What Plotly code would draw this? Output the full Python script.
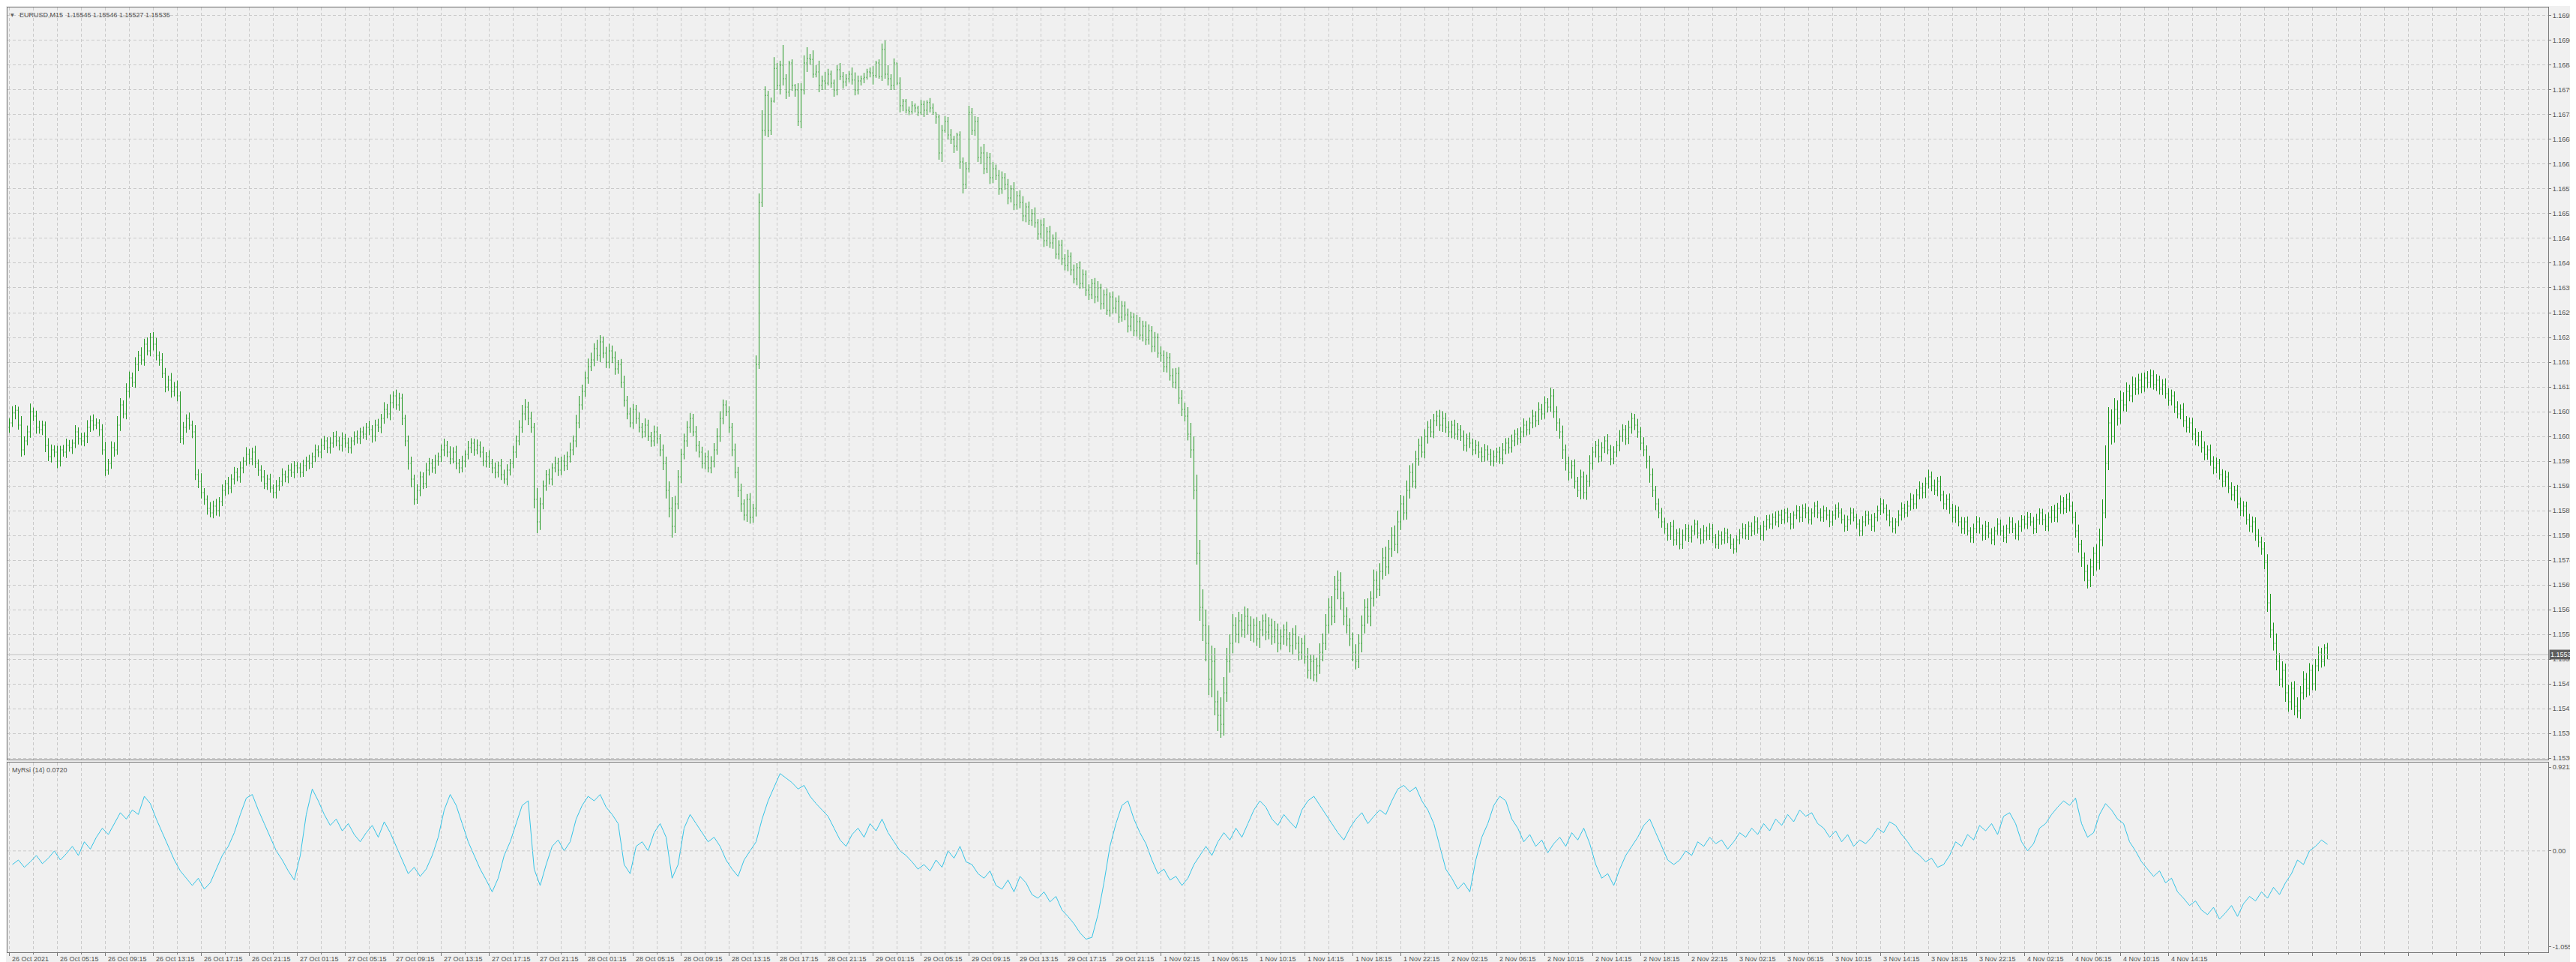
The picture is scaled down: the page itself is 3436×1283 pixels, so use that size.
import plotly.graph_objects as go

# ---------------- data (prices in points above 1.15000, 1 point = 0.00001) ----------------
BASE = 1.15
PT = 0.00001

first_open = 1040
close_pts = [
    1050,1072,1078,1045,990,1010,1030,1075,1065,1040,
    1035,1045,1000,975,990,985,965,990,985,1000,
    995,1005,1030,1015,1010,1020,1040,1055,1045,1050,
    1035,990,945,960,995,990,1045,1090,1070,1120,
    1150,1140,1180,1200,1190,1225,1210,1240,1225,1200,
    1190,1160,1130,1145,1120,1130,1110,1015,1040,1060,
    1045,1030,935,920,895,880,860,850,865,855,
    875,900,915,905,
    925,940,930,950,965,980,970,985,960,945,
    930,915,925,905,895,910,920,935,930,945,
    940,955,950,940,955,965,960,975,990,985,
    1000,1010,995,1005,1020,1010,1000,1015,1005,995,
    1010,1020,1015,1030,1025,1040,1035,1020,1045,1040,
    1060,1080,1070,1095,1110,1090,1105,1060,1010,960,
    925,880,900,930,915,945,960,950,
    965,975,990,1000,985,970,985,960,950,965,
    980,995,1005,990,1000,985,965,975,960,950,
    940,955,935,925,945,960,985,1010,1040,1070,
    1085,1060,1040,880,830,870,910,935,925,950,
    960,945,965,955,975,990,1010,1050,1090,1120,
    1150,1175,1190,1215,1200,1230,1205,1185,1210,1195,
    1170,1180,1140,1100,1070,1050,1080,1060,1040,1030,
    1045,1020,1010,1030,1015,990,960,900,860,820,
    870,930,980,1010,1040,1060,1030,1000,985,960,
    975,950,965,990,1020,1060,1090,1075,1040,990,
    940,900,870,845,880,840,860,1180,1540,1700,
    1778,1700,1765,1838,1800,1845,1815,1785,1850,1800,
    1790,1720,1790,1850,1860,1858,1825,1830,1800,1810,
    1805,1825,1805,1790,1835,1820,1808,1815,1825,1812,
    1790,1810,1815,1818,1830,1828,1822,1850,1820,1880,
    1825,1815,1800,1850,1805,1755,1765,1745,1742,1755,
    1750,1740,1758,1745,1762,1750,1740,1730,1650,1700,
    1720,1690,1680,1665,1690,1630,1580,1615,1740,1700,
    1720,1640,
    1650,1615,1640,1595,1615,1600,1570,1595,1580,1550,
    1570,1535,1555,1540,1510,1530,1500,1515,1495,1470,
    1490,1455,1475,1450,1460,1425,1445,1415,1400,1420,
    1390,1370,1395,1360,1380,1345,1335,1360,1330,1350,
    1315,1335,1300,1330,1305,1320,1285,1310,1290,1265,
    1285,1255,1275,1245,1265,1235,1255,1220,1240,1205,
    1200,1175,1195,1155,1140,1160,1105,1080,1065,1025,
    990,900,760,640,600,
    560,480,520,430,400,380,450,520,560,600,
    580,610,590,620,600,580,600,570,590,610,
    585,600,575,590,560,575,590,570,555,580,
    560,540,560,530,500,520,490,510,540,560,
    600,640,620,680,700,660,620,600,570,540,
    520,560,600,640,620,660,700,680,720,750,
    730,770,
    800,780,830,870,850,900,940,920,970,1000,985,1020,1040,1030,1055,
    1065,1045,1060,1040,1030,1045,1025,1035,1020,1000,
    1015,1005,990,1000,985,975,990,980,965,975,
    985,970,990,1005,995,1010,1025,1015,1030,1045,
    1035,1050,1065,1055,1080,1070,1095,1085,1110,1075,
    1050,1030,990,960,940,955,920,900,930,895,
    920,960,985,1000,975,995,1010,990,970,985,
    1000,1020,1035,1015,1040,1060,1045,1030,1005,990,
    965,935,900,870,850,
    830,815,800,820,790,805,780,800,815,795,
    810,825,805,790,810,800,815,795,780,800,
    790,805,795,780,770,790,805,815,800,820,
    810,830,815,800,820,835,825,840,830,845,
    835,850,840,825,845,855,840,860,850,835,
    850,865,850,840,855,845,830,845,860,850,
    835,820,835,850,840,825,810,830,845,835,
    820,840,855,870,860,845,830,815,830,845,
    860,850,865,880,870,890,905,895,915,930,
    910,900,920,890,870,880,860,840,855,830,
    815,830,810,795,815,830,815,800,820,805,
    790,810,825,810,795,815,830,815,800,820,
    835,825,840,830,815,835,850,835,820,840,
    855,840,860,875,860,880,865,840,810,780,
    750,720,700,730,760,740,790,850,960,1050,
    1020,1080,1060,1100,1090,1120,1110,1135,1125,1145,
    1130,1150,1140,1155,1135,1145,1125,1135,1115,1100,
    1110,1085,1070,1080,1055,1040,1050,1025,1010,1020,
    995,980,990,965,950,960,935,920,930,905,
    890,900,870,855,865,835,820,830,800,785,
    770,740,
    650,590,560,520,480,500,450,430,460,420,410,450,480,460,500,470,510,540,520,550,535,
]

upper_wick = [
    10,15,12,8,20,10,14,18,9,12,15,10,8,16,12,10,14,9,11,15,
    12,8,15,10,13,9,16,11,14,10,8,12,18,10,14,12,20,15,10,18,
    14,12,16,10,18,12,15,10,12,14,9,15,12,10,16,11,14,10,12,9,
    13,10,15,12,18,10,9,14,12,16,10,13,8,15,11,12,10,14,9,16,
    12,10,14,9,11,15,10,12,8,13,10,14,9,12,15,10,8,11,13,10,
    14,9,12,10,15,11,8,13,10,12,9,14,10,12,8,11,13,9,12,10,
    15,10,12,14,10,16,12,18,10,14,12,10,8,12,15,10,14,12,10,16,
    12,10,14,9,12,15,10,13,11,14,10,12,9,15,11,10,13,9,12,10,
    14,10,12,9,15,11,13,10,14,12,16,20,18,12,15,10,25,14,12,10,
    13,10,15,12,10,14,11,16,12,18,20,15,14,18,16,12,20,15,12,14,
    16,12,14,10,12,15,10,14,12,10,13,10,15,12,10,14,12,10,12,15,
    20,25,18,15,12,16,14,12,10,13,10,12,9,14,11,15,18,16,12,10,
    12,10,14,12,15,10,12,14,10,20,20,45,20,10,8,25,12,10,45,10,
    5,8,3,15,15,17,25,10,20,15,25,12,20,12,8,8,10,15,10,10,
    7,15,17,12,7,10,7,10,15,5,8,13,20,20,10,10,0,13,5,5,
    8,10,5,5,10,8,5,10,10,0,5,12,12,10,13,8,5,8,10,15,
    15,10,12,10,14,20,12,10,15,9,12,14,10,12,8,15,10,12,14,9,
    12,10,14,8,12,15,10,13,9,14,11,12,10,15,9,12,10,14,11,9,
    13,10,12,15,9,11,14,10,12,9,13,11,10,14,12,9,15,10,12,11,
    14,10,12,9,15,11,13,10,16,12,14,18,15,20,25,30,35,30,40,35,
    40,35,30,25,40,35,30,20,25,18,20,15,22,18,20,15,18,20,14,16,
    18,15,20,14,16,12,18,15,14,20,16,12,18,20,15,14,18,20,22,25,
    20,25,30,22,18,15,20,16,14,18,20,22,18,20,16,24,20,18,22,25,
    20,18,22,25,20,18,22,16,20,18,15,20,16,14,18,15,12,14,16,12,
    14,10,12,15,10,13,11,14,10,12,9,11,13,10,12,14,10,12,15,11,
    12,14,10,13,11,15,10,12,14,11,16,12,14,10,18,15,12,10,14,12,
    15,12,14,10,16,12,15,18,12,10,14,12,10,15,11,13,10,14,12,10,
    15,12,10,14,11,13,10,12,14,10,12,11,9,12,10,14,9,11,13,10,
    9,12,10,8,11,13,9,12,10,8,11,9,12,10,8,13,10,9,12,10,
    11,9,13,10,8,12,10,11,9,13,10,12,9,11,10,8,12,10,9,11,
    13,10,9,12,10,11,8,12,10,9,13,10,11,9,12,10,8,11,13,10,
    9,12,10,11,13,10,9,12,10,8,11,13,10,12,14,11,13,15,12,14,
    16,12,14,10,12,9,11,13,10,12,9,11,10,12,8,11,13,10,9,12,
    10,11,9,13,10,12,9,11,10,12,13,10,9,12,10,11,13,10,9,12,
    11,10,13,12,14,10,12,15,10,12,14,10,12,15,18,14,20,25,30,40,
    35,30,25,20,22,18,20,15,18,16,14,16,12,15,14,12,13,10,12,14,
    12,14,10,13,11,14,10,12,11,13,10,12,14,10,12,11,13,10,12,14,
    11,13,10,12,14,11,10,13,12,10,14,12,15,18,20,16,22,18,20,15,
    18,14,16,20,15,18,14,16,12,15,13,10,8,11,
]

lower_wick = [
    12,9,14,10,15,12,10,13,11,14,9,12,15,10,13,11,16,12,10,13,
    9,14,11,13,10,12,15,10,12,9,14,11,13,10,12,15,11,13,10,12,
    14,10,12,15,11,13,10,12,14,11,13,10,12,9,14,11,12,10,13,12,
    10,14,12,15,13,12,14,10,12,11,13,10,12,14,11,12,10,13,12,10,
    12,14,10,13,11,12,14,10,12,13,11,10,12,14,10,13,12,11,10,12,
    13,10,12,11,14,10,12,13,10,12,11,14,10,12,13,10,11,12,10,13,
    12,14,11,10,13,12,10,14,12,11,13,15,12,14,18,12,10,13,12,10,
    12,11,13,10,12,14,11,12,10,13,12,10,14,11,12,13,10,12,11,14,
    10,12,13,11,12,10,14,12,11,13,10,12,14,15,12,20,25,18,12,11,
    12,14,10,13,11,12,10,13,12,14,12,11,12,13,10,14,12,15,11,13,
    14,12,13,11,12,14,12,10,13,12,11,14,12,10,13,12,11,14,15,18,
    20,25,15,12,14,11,13,12,10,14,12,11,13,10,12,14,11,12,13,10,
    12,14,13,15,18,12,15,14,12,18,10,10,12,15,10,3,10,20,15,15,
    10,12,15,10,15,10,20,12,8,7,15,10,15,5,10,15,12,8,15,10,
    8,10,12,10,10,10,5,10,20,5,5,10,10,15,10,10,5,15,12,7,
    8,5,10,8,5,15,10,10,5,15,15,20,5,10,10,15,10,15,20,10,
    8,10,12,10,15,12,10,14,12,10,13,11,12,14,10,12,11,13,12,14,
    10,12,11,13,10,14,12,11,13,10,12,14,11,13,12,10,14,12,11,13,
    12,10,14,11,13,12,10,14,12,11,13,10,12,14,11,12,13,10,14,12,
    11,13,12,10,14,12,13,11,12,14,13,15,12,14,18,20,25,30,35,40,
    35,40,30,35,30,25,20,25,22,18,20,16,18,20,15,18,16,20,14,18,
    16,18,15,20,14,18,16,15,20,14,18,16,15,18,20,14,16,18,20,15,
    18,20,15,22,25,20,18,16,20,18,15,20,18,16,22,18,20,15,18,20,
    16,18,15,20,18,16,15,18,14,16,15,12,14,16,12,14,12,13,15,12,
    12,14,11,13,10,12,14,11,12,10,13,12,11,14,10,12,13,11,12,10,
    13,11,12,14,10,12,13,11,12,14,10,13,11,12,10,14,18,15,20,16,
    18,14,16,15,20,14,16,12,14,12,13,11,12,10,14,12,11,13,12,14,
    12,14,11,13,15,14,16,18,15,14,12,13,11,12,10,13,12,11,10,12,
    10,11,9,12,10,8,11,10,12,9,10,11,9,12,10,11,8,10,12,9,
    10,12,9,11,10,12,9,10,11,8,12,10,9,11,12,10,9,11,10,12,
    9,11,10,12,9,10,11,12,9,10,11,9,12,10,11,9,10,12,11,10,
    11,10,12,9,10,11,12,10,9,11,10,12,11,9,10,12,11,10,13,12,
    11,12,10,13,14,12,13,12,11,12,10,11,12,10,11,12,10,11,12,10,
    11,10,12,9,11,10,12,11,10,9,11,12,10,11,9,12,10,11,12,10,
    11,12,10,11,12,13,10,12,14,15,18,20,22,18,15,20,18,16,14,12,
    15,18,14,16,12,14,15,12,14,13,12,14,11,13,12,11,14,12,13,11,
    12,11,13,10,12,14,11,12,13,10,12,11,13,12,10,14,12,11,13,12,
    11,12,14,10,12,13,11,12,14,12,11,13,15,20,18,16,20,15,18,20,
    22,18,20,16,18,15,20,16,14,15,12,14,11,10,
]

# MyRsi(14) values, one every second bar (bars 1, 3, 5, ...)
rsi_vals = [
    -0.15,-0.10,-0.18,-0.12,-0.05,-0.14,-0.08,0.00,-0.10,-0.03,
    0.05,-0.05,0.10,0.02,0.15,0.25,0.18,0.30,0.42,0.35,
    0.45,0.40,0.60,0.52,0.35,0.20,0.05,-0.10,-0.22,-0.30,
    -0.38,-0.30,-0.42,-0.35,-0.20,-0.05,0.05,0.20,0.40,0.58,
    0.62,0.45,0.30,0.15,0.00,-0.10,-0.22,-0.32,-0.05,0.40,
    0.68,0.55,0.40,0.28,0.35,0.22,0.30,0.18,0.10,0.20,
    0.28,0.15,0.32,0.20,0.05,-0.10,-0.25,-0.18,-0.28,-0.20,
    -0.05,0.15,0.45,0.62,0.50,0.30,0.10,-0.05,-0.20,-0.32,
    -0.45,-0.30,-0.05,0.10,0.30,0.50,0.55,-0.20,-0.38,-0.15,
    0.05,0.12,0.00,0.10,0.35,0.50,0.60,0.55,0.62,0.48,
    0.40,0.30,-0.15,-0.25,0.05,0.10,0.00,0.20,0.30,0.15,
    -0.30,-0.15,0.25,0.40,0.30,0.20,0.10,0.15,0.05,-0.10,
    -0.20,-0.28,-0.10,0.00,0.10,0.35,0.55,0.70,0.85,0.80,
    0.75,0.68,0.72,0.60,0.52,0.45,0.38,0.25,0.12,0.05,
    0.18,0.25,0.15,0.30,0.22,0.35,0.20,0.10,0.00,-0.05,
    -0.12,-0.20,-0.15,-0.22,-0.10,-0.18,0.00,-0.08,0.05,-0.12,
    -0.15,-0.25,-0.30,-0.22,-0.38,-0.42,-0.32,-0.45,-0.28,-0.35,
    -0.48,-0.52,-0.45,-0.56,-0.50,-0.65,-0.72,-0.80,-0.90,-0.97,
    -0.95,-0.70,-0.35,0.05,0.30,0.50,0.55,0.35,0.20,0.08,
    -0.10,-0.25,-0.20,-0.32,-0.28,-0.38,-0.30,-0.15,-0.05,0.05,
    -0.05,0.10,0.20,0.12,0.25,0.15,0.30,0.45,0.55,0.48,
    0.35,0.28,0.40,0.32,0.25,0.45,0.55,0.60,0.50,0.40,
    0.30,0.20,0.12,0.25,0.35,0.42,0.30,0.38,0.45,0.40,
    0.55,0.68,0.72,0.65,0.70,0.55,0.45,0.30,0.05,-0.20,
    -0.30,-0.42,-0.35,-0.45,-0.10,0.15,0.30,0.50,0.60,0.55,
    0.35,0.25,0.10,0.18,0.05,0.12,-0.02,0.08,0.15,0.05,
    0.20,0.12,0.25,0.08,-0.15,-0.30,-0.25,-0.38,-0.20,-0.05,
    0.05,0.15,0.28,0.35,0.20,0.05,-0.10,-0.15,-0.10,0.00,
    -0.05,0.10,0.05,0.15,0.08,0.12,0.02,0.10,0.20,0.15,
    0.25,0.18,0.30,0.22,0.35,0.28,0.40,0.32,0.45,0.38,
    0.42,0.30,0.25,0.15,0.22,0.10,0.18,0.05,0.12,0.08,
    0.15,0.25,0.20,0.32,0.28,0.18,0.10,0.00,-0.05,-0.12,
    -0.08,-0.18,-0.15,-0.05,0.10,0.05,0.18,0.12,0.28,0.22,
    0.30,0.18,0.38,0.42,0.30,0.10,0.00,0.08,0.25,0.30,
    0.40,0.48,0.55,0.50,0.58,0.30,0.15,0.20,0.40,0.52,
    0.45,0.35,0.30,0.10,0.00,-0.12,-0.20,-0.28,-0.22,-0.35,
    -0.30,-0.45,-0.52,-0.60,-0.55,-0.65,-0.70,-0.62,-0.75,-0.68,
    -0.60,-0.72,-0.58,-0.50,-0.55,-0.45,-0.52,-0.40,-0.48,-0.35,
    -0.25,-0.10,-0.15,0.00,0.05,0.12,0.072,
]

time_labels = [
    "26 Oct 2021", "26 Oct 05:15", "26 Oct 09:15", "26 Oct 13:15", "26 Oct 17:15", "26 Oct 21:15",
    "27 Oct 01:15", "27 Oct 05:15", "27 Oct 09:15", "27 Oct 13:15", "27 Oct 17:15", "27 Oct 21:15",
    "28 Oct 01:15", "28 Oct 05:15", "28 Oct 09:15", "28 Oct 13:15", "28 Oct 17:15", "28 Oct 21:15",
    "29 Oct 01:15", "29 Oct 05:15", "29 Oct 09:15", "29 Oct 13:15", "29 Oct 17:15", "29 Oct 21:15",
    "1 Nov 02:15", "1 Nov 06:15", "1 Nov 10:15", "1 Nov 14:15", "1 Nov 18:15", "1 Nov 22:15",
    "2 Nov 02:15", "2 Nov 06:15", "2 Nov 10:15", "2 Nov 14:15", "2 Nov 18:15", "2 Nov 22:15",
    "3 Nov 02:15", "3 Nov 06:15", "3 Nov 10:15", "3 Nov 14:15", "3 Nov 18:15", "3 Nov 22:15",
    "4 Nov 02:15", "4 Nov 06:15", "4 Nov 10:15", "4 Nov 14:15",
]
BARS_PER_LABEL = 16

price_ticks = [
    "1.15305", "1.15360", "1.15415", "1.15470", "1.15525", "1.15580", "1.15635", "1.15690",
    "1.15745", "1.15800", "1.15855", "1.15910", "1.15965", "1.16020", "1.16075", "1.16130",
    "1.16185", "1.16240", "1.16295", "1.16350", "1.16405", "1.16460", "1.16515", "1.16570",
    "1.16625", "1.16680", "1.16735", "1.16790", "1.16845", "1.16900", "1.16955",
]
rsi_ticks = ["0.9212", "0.00", "-1.0558"]
last_price = "1.15535"
title_text = "EURUSD,M15\u00a0\u00a01.15545 1.15546 1.15527 1.15535"
rsi_title = "MyRsi (14) 0.0720"

# ---------------- build OHLC ----------------
n = len(close_pts)
opens, highs, lows, closes = [], [], [], []
prev = first_open
for i in range(n):
    o = prev
    c = close_pts[i]
    h = max(o, c) + upper_wick[i]
    l = min(o, c) - lower_wick[i]
    opens.append(BASE + o * PT)
    highs.append(BASE + h * PT)
    lows.append(BASE + l * PT)
    closes.append(BASE + c * PT)
    prev = c
bars = list(range(n))
rsi_x = [1 + 2 * k for k in range(len(rsi_vals))]

BG = "#F0F0F0"
GRID = "#C9C9C9"
FRAME = "#787878"
TXT = "#505050"
FONT = "Liberation Sans, Arial, sans-serif"
BAR_GREEN = "#1E961E"
RSI_COLOR = "#35C4E6"

fig = go.Figure()
fig.add_trace(go.Ohlc(
    x=bars, open=opens, high=highs, low=lows, close=closes,
    increasing=dict(line=dict(color=BAR_GREEN, width=1)),
    decreasing=dict(line=dict(color=BAR_GREEN, width=1)),
    tickwidth=0.25, xaxis="x", yaxis="y", showlegend=False, hoverinfo="skip",
))
fig.add_trace(go.Scatter(
    x=rsi_x, y=rsi_vals, mode="lines", line=dict(color=RSI_COLOR, width=1),
    xaxis="x2", yaxis="y2", showlegend=False, hoverinfo="skip",
))

major_x = [BARS_PER_LABEL * k for k in range(len(time_labels))]
minor_x = [BARS_PER_LABEL * k + BARS_PER_LABEL // 2 for k in range(len(time_labels) + 7)]
all_major = [BARS_PER_LABEL * k for k in range(len(time_labels) + 7)]

# shifted by 1/8 bar so that each 1px bar line falls on a pixel centre
x_range = [-0.625, 846.625]
griddash = "4px,3px"

fig.update_layout(
    width=3436, height=1283,
    margin=dict(l=2, r=45, t=2, b=21),
    paper_bgcolor=BG, plot_bgcolor=BG,
    font=dict(family=FONT, size=9, color=TXT),
    xaxis=dict(
        domain=[0, 1], anchor="y", range=x_range, rangeslider=dict(visible=False),
        tickmode="array", tickvals=all_major, showticklabels=False, ticks="",
        showgrid=True, gridcolor=GRID, griddash=griddash, gridwidth=1,
        minor=dict(tickmode="array", tickvals=minor_x, showgrid=True, gridcolor=GRID,
                   griddash=griddash, gridwidth=1, ticks=""),
        showline=True, mirror=True, linecolor=FRAME, linewidth=1, zeroline=False,
    ),
    yaxis=dict(
        domain=[0.20397, 1], anchor="x", side="right",
        range=[1.153017, 1.169733],
        tickmode="array", tickvals=[float(t) for t in price_ticks], ticktext=price_ticks,
        ticks="outside", ticklen=3, tickcolor=FRAME,
        showgrid=True, gridcolor=GRID, griddash=griddash, gridwidth=1,
        showline=True, mirror=True, linecolor=FRAME, linewidth=1, zeroline=False,
        tickfont=dict(family=FONT, size=9, color=TXT),
    ),
    xaxis2=dict(
        domain=[0, 1], anchor="y2", range=x_range,
        tickmode="array", tickvals=all_major, showticklabels=False,
        ticks="outside", ticklen=4, tickcolor=FRAME,
        showgrid=True, gridcolor=GRID, griddash=griddash, gridwidth=1,
        minor=dict(tickmode="array", tickvals=minor_x, showgrid=True, gridcolor=GRID,
                   griddash=griddash, gridwidth=1, ticks="outside", ticklen=2, tickcolor=FRAME),
        showline=True, mirror=True, linecolor=FRAME, linewidth=1, zeroline=False,
    ),
    yaxis2=dict(
        domain=[0, 0.20079], anchor="x2", side="right",
        range=[-1.11347, 0.97063],
        tickmode="array", tickvals=[float(t) for t in rsi_ticks], ticktext=rsi_ticks,
        ticks="outside", ticklen=3, tickcolor=FRAME,
        showgrid=False,
        showline=True, mirror=True, linecolor=FRAME, linewidth=1, zeroline=False,
        tickfont=dict(family=FONT, size=9, color=TXT),
    ),
)

shapes = [
    dict(type="line", xref="paper", yref="y", x0=0, x1=1,
         y0=float(last_price), y1=float(last_price), line=dict(color="#C2C2C2", width=1)),
    dict(type="line", xref="paper", yref="y2", x0=0, x1=1, y0=0, y1=0,
         line=dict(color=GRID, width=1, dash=griddash)),
]
fig.update_layout(shapes=shapes)

annotations = []
for xv, lab in zip(major_x, time_labels):
    annotations.append(dict(
        x=xv, xref="x2", y=0, yref="paper", yanchor="top", xanchor="left",
        xshift=1, yshift=-2, text=lab, showarrow=False,
        font=dict(family=FONT, size=9, color=TXT),
    ))
annotations.append(dict(
    x=1, xref="paper", y=float(last_price), yref="y", xshift=1,
    text=last_price, showarrow=False, xanchor="left", yanchor="middle",
    bgcolor="#5E5E5E", font=dict(family=FONT, size=9, color="#FFFFFF"), borderpad=1,
))
annotations.append(dict(
    x=0, xref="paper", y=1, yref="paper", xanchor="left", yanchor="top",
    xshift=2, yshift=-4, text="\u25bc", showarrow=False,
    font=dict(family="DejaVu Sans", size=6, color="#606060"),
))
annotations.append(dict(
    x=0, xref="paper", y=1, yref="paper", xanchor="left", yanchor="top",
    xshift=14, yshift=-3, text=title_text, showarrow=False,
    font=dict(family=FONT, size=9, color=TXT),
))
annotations.append(dict(
    x=0, xref="paper", y=0.20079, yref="paper", xanchor="left", yanchor="top",
    xshift=4, yshift=-3, text=rsi_title, showarrow=False,
    font=dict(family=FONT, size=9, color=TXT),
))
fig.update_layout(annotations=annotations)

fig.write_html("out.html")
